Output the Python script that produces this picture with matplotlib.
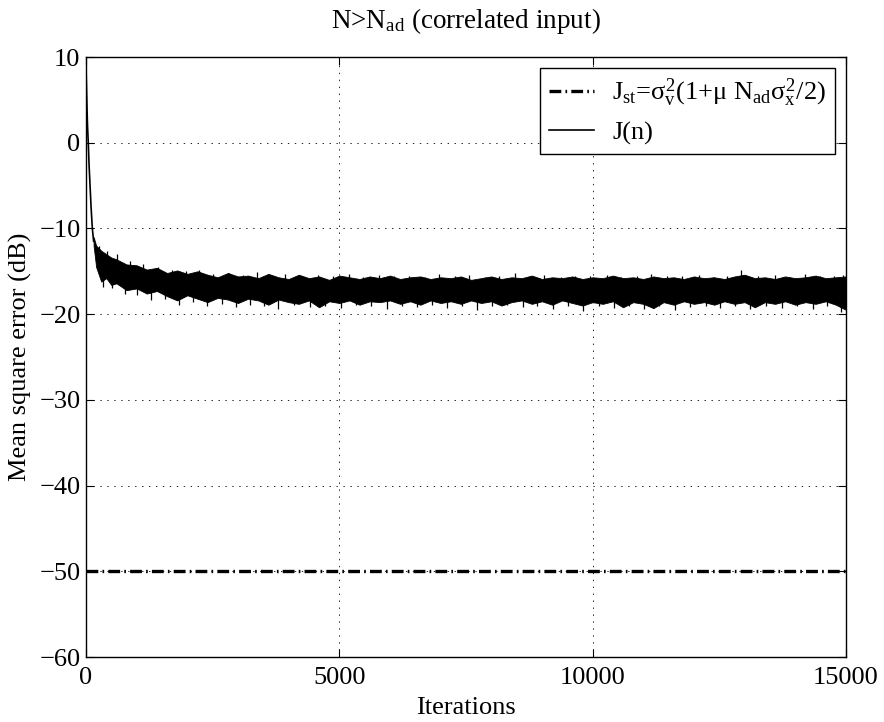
import matplotlib
matplotlib.use("Agg")
import matplotlib.pyplot as plt
import numpy as np

plt.rcParams["font.family"] = ["Liberation Serif", "DejaVu Serif"]
plt.rcParams["mathtext.fontset"] = "custom"
plt.rcParams["mathtext.rm"] = "Liberation Serif"
plt.rcParams["mathtext.it"] = "Liberation Serif"
plt.rcParams["mathtext.bf"] = "Liberation Serif:bold"
plt.rcParams["lines.scale_dashes"] = False

# transient part of J(n)
trans_n = [0, 10, 20, 30, 45, 60, 80, 100, 125, 150]
trans_j = [9.0, 6.5, 4.0, 2.0, 0.0, -2.5, -5.0, -7.5, -10.0, -11.5]

# steady-state noise band of J(n): upper and lower extent of the dense core
band_n = [150, 200, 300, 400, 500, 600, 800] + list(range(1000, 15001, 200))
band_hi = [
    -11.0, -12.0, -12.6, -13.0, -13.4, -13.6, -14.2,
    -14.3, -14.8, -14.6, -15.2, -14.9, -15.3, -15.0, -15.4, -15.7, -15.2,
    -15.6, -15.5, -15.8, -15.3, -15.7, -15.9, -15.4, -15.8, -15.6, -16.0,
    -15.5, -15.7, -15.9, -15.6, -15.8, -15.5, -15.9, -15.7, -15.6, -15.9,
    -15.7, -15.8, -15.6, -16.0, -15.8, -15.6, -15.9, -15.7, -15.8, -15.5,
    -15.9, -15.7, -15.8, -15.6, -15.9, -15.7, -15.8, -15.5, -15.8, -15.7,
    -15.9, -15.6, -15.8, -15.7, -15.9, -15.6, -15.8, -15.7, -15.9, -15.6,
    -15.4, -15.8, -15.7, -15.9, -15.6, -15.8, -15.7, -15.5, -15.8, -15.7,
    -15.6,
]
band_lo = [
    -12.0, -14.5, -16.2, -15.8, -16.6, -16.4, -17.2,
    -17.0, -17.6, -17.3, -17.9, -18.4, -17.8, -18.2, -18.6, -18.1, -18.3,
    -18.7, -18.2, -18.4, -18.9, -18.3, -18.6, -18.8, -18.4, -19.2, -18.5,
    -18.7, -18.4, -18.9, -18.5, -18.6, -18.4, -18.8, -18.5, -18.9, -18.4,
    -18.7, -18.5, -18.8, -18.4, -18.7, -18.5, -19.0, -18.6, -18.4, -18.8,
    -18.5, -18.9, -18.4, -18.7, -19.0, -18.6, -18.8, -18.5, -19.2, -18.6,
    -18.8, -19.3, -18.6, -18.9, -18.5, -18.8, -18.6, -18.9, -18.5, -18.8,
    -18.6, -19.2, -18.6, -18.8, -18.5, -18.9, -18.6, -18.8, -18.5, -18.9,
    -19.5,
]

# single-sample spikes sticking out of the band
up_n = [260, 420, 610, 870, 1130, 1420, 1690, 1980, 2240, 2510, 2830, 3090,
        3370, 3640, 3920, 4260, 4580, 4870, 5190, 5460, 5790, 6080, 6370,
        6690, 6960, 7280, 7560, 7870, 8150, 8470, 8760, 9040, 9380, 9660,
        9950, 10280, 10560, 10870, 11150, 11470, 11760, 12090, 12380, 12660,
        12930, 13270, 13590, 13880, 14190, 14480, 14770, 14950]
up_j = [-12.0, -12.6, -13.0, -13.8, -14.2, -14.5, -14.8, -15.0, -14.9, -15.3,
        -15.2, -15.4, -15.1, -15.5, -15.3, -15.6, -15.4, -15.6, -15.3, -15.7,
        -15.4, -15.6, -15.5, -15.7, -15.3, -15.6, -15.4, -15.7, -15.5, -15.2,
        -15.6, -15.4, -15.7, -15.5, -15.6, -15.4, -15.7, -15.5, -15.3, -15.6,
        -15.5, -15.4, -15.7, -15.5, -14.8, -15.6, -15.4, -15.7, -15.3, -15.6,
        -15.5, -15.4]
dn_n = [330, 520, 760, 1010, 1280, 1560, 1840, 2110, 2390, 2680, 2960, 3230,
        3510, 3790, 4100, 4420, 4720, 5030, 5320, 5630, 5940, 6230, 6530,
        6820, 7130, 7420, 7720, 8010, 8310, 8620, 8900, 9210, 9520, 9800,
        10120, 10420, 10720, 11010, 11310, 11620, 11920, 12230, 12520, 12800,
        13110, 13430, 13740, 14040, 14340, 14630, 14900]
dn_j = [-16.8, -17.0, -17.6, -17.8, -18.4, -18.2, -18.9, -18.6, -19.0, -18.8,
        -19.2, -18.9, -19.1, -19.4, -18.9, -19.2, -19.0, -19.3, -18.9, -19.1,
        -19.4, -19.0, -19.2, -18.9, -19.3, -19.0, -19.5, -19.1, -18.9, -19.2,
        -19.0, -19.4, -19.1, -19.6, -19.0, -19.3, -19.1, -19.4, -19.0, -19.5,
        -19.2, -19.0, -19.3, -19.1, -19.4, -19.0, -19.3, -19.1, -19.4, -19.0,
        -19.8]

j_st = -50.0
n_max = 15000

fig = plt.figure(figsize=(8.84, 7.22), dpi=100)
ax = fig.add_axes([86 / 884, 65 / 722, 760 / 884, 600 / 722])

ax.plot([0, n_max], [j_st, j_st], color="black", lw=2.4,
        ls=(0, (8.5, 3.0, 1.2, 3.0)),
        label=r"J$_{\rm st}$=$\sigma_{\rm v}^2$(1+$\mu$ N$_{\rm ad}\sigma_{\rm x}^2$/2)")
ax.plot(trans_n, trans_j, color="black", lw=1.2, label="J(n)")
ax.fill_between(band_n, band_lo, band_hi, color="black", lw=0.6, edgecolor="black")

# spikes start inside the band
mid = (np.array(band_hi) + np.array(band_lo)) / 2
ax.vlines(up_n, np.interp(up_n, band_n, mid), up_j, color="black", lw=0.9)
ax.vlines(dn_n, np.interp(dn_n, band_n, mid), dn_j, color="black", lw=0.9)

ax.set_xlim(0, n_max)
ax.set_ylim(-60, 10)
ax.set_xticks([0, 5000, 10000, 15000])
ax.set_yticks(range(-60, 11, 10))
ax.grid(True, color="black", ls=(0, (1, 4)), lw=0.6)
ax.tick_params(direction="in", top=True, right=True, labelsize=19, length=6)
ax.tick_params(axis="x", pad=7)
ax.tick_params(axis="y", pad=4)
for s in ax.spines.values():
    s.set_linewidth(1.0)

ax.set_xlabel("Iterations", fontsize=19, labelpad=6)
ax.set_ylabel("Mean square error (dB)", fontsize=19, labelpad=5)
ax.set_title(r"N>N$_{\rm ad}$ (correlated input)", fontsize=19.5, pad=21)

leg = ax.legend(loc="upper right", fontsize=19, fancybox=False, framealpha=1,
                edgecolor="black", borderaxespad=0.4, handlelength=1.7,
                handletextpad=0.7, borderpad=0.35, labelspacing=0.45)
leg.get_frame().set_linewidth(1.0)

fig.savefig("out.png", dpi=100)
